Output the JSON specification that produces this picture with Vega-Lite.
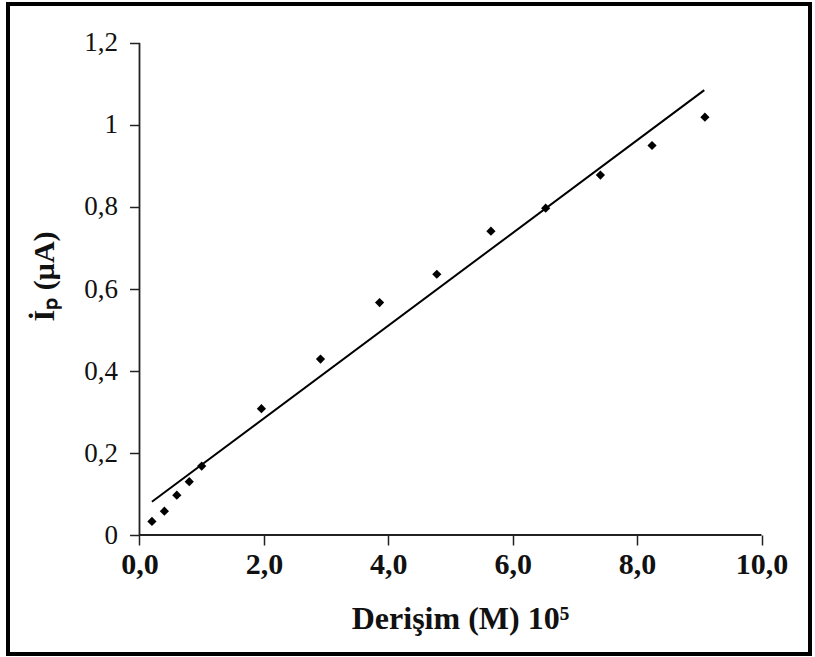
{
  "$schema": "https://vega.github.io/schema/vega-lite/v6.json",
  "width": 802,
  "height": 650,
  "autosize": {"type": "none"},
  "padding": {"left": 8, "top": 4, "right": 5, "bottom": 3},
  "background": "white",
  "config": {"view": {"stroke": "black", "strokeWidth": 4}, "font": "Liberation Serif"},
  "datasets": {
    "points": [
      {"c": 0.2, "i": 0.033},
      {"c": 0.4, "i": 0.058},
      {"c": 0.6, "i": 0.097},
      {"c": 0.8, "i": 0.13},
      {"c": 1.0, "i": 0.168},
      {"c": 1.96, "i": 0.308},
      {"c": 2.91, "i": 0.429},
      {"c": 3.86, "i": 0.567},
      {"c": 4.78, "i": 0.636},
      {"c": 5.65, "i": 0.741},
      {"c": 6.53, "i": 0.797},
      {"c": 7.41, "i": 0.878},
      {"c": 8.24, "i": 0.95},
      {"c": 9.09, "i": 1.019}
    ],
    "fit": [{"c": 0.2, "i": 0.081}, {"c": 9.08, "i": 1.085}],
    "xline": [{"c": 0, "c2": 10, "i": 0}],
    "yline": [{"c": 0, "i": 0, "i2": 1.2}]
  },
  "encoding": {
    "x": {
      "field": "c",
      "type": "quantitative",
      "scale": {"domain": [-2.1141, 10.7797], "nice": false, "zero": false},
      "axis": {
        "values": [0, 2, 4, 6, 8, 10],
        "labelExpr": "replace(format(datum.value, '.1f'), '.', ',')",
        "domain": false,
        "grid": false,
        "offset": -119,
        "tickSize": 10,
        "tickColor": "#222",
        "tickWidth": 1.5,
        "labelFont": "Liberation Serif",
        "labelFontSize": 30,
        "labelFontWeight": "bold",
        "labelColor": "#111",
        "labelPadding": 4,
        "labelFlush": false,
        "labelOverlap": false,
        "title": "Derişim (M) 10⁵",
        "titleFont": "Liberation Serif",
        "titleFontSize": 32,
        "titleFontWeight": "bold",
        "titleColor": "#111",
        "titleX": 452,
        "titleY": 93,
        "titleAlign": "center",
        "titleBaseline": "alphabetic"
      }
    },
    "y": {
      "field": "i",
      "type": "quantitative",
      "scale": {"domain": [-0.29024, 1.29512], "nice": false, "zero": false},
      "axis": {
        "values": [0, 0.2, 0.4, 0.6, 0.8, 1, 1.2],
        "labelExpr": "replace(format(datum.value, '.1~f'), '.', ',')",
        "domain": false,
        "grid": false,
        "offset": -131.5,
        "tickSize": 10,
        "tickColor": "#222",
        "tickWidth": 1.5,
        "labelFont": "Liberation Serif",
        "labelFontSize": 27,
        "labelColor": "#111",
        "labelPadding": 12,
        "labelFlush": false,
        "labelOverlap": false,
        "title": "İₚ (µA)",
        "titleFont": "Liberation Serif",
        "titleFontSize": 30,
        "titleFontWeight": "bold",
        "titleColor": "#111",
        "titleAngle": -90,
        "titleX": -86.5,
        "titleY": 272,
        "titleAlign": "center",
        "titleBaseline": "alphabetic"
      }
    }
  },
  "layer": [
    {
      "data": {"name": "xline"},
      "mark": {"type": "rule", "color": "#222", "strokeWidth": 1.8},
      "encoding": {"x2": {"field": "c2"}}
    },
    {
      "data": {"name": "yline"},
      "mark": {"type": "rule", "color": "#222", "strokeWidth": 1.8},
      "encoding": {"y2": {"field": "i2"}}
    },
    {
      "data": {"name": "fit"},
      "mark": {"type": "line", "color": "black", "strokeWidth": 2},
      "encoding": {}
    },
    {
      "data": {"name": "points"},
      "mark": {"type": "point", "shape": "diamond", "filled": true, "color": "black", "opacity": 1, "size": 85},
      "encoding": {}
    }
  ]
}
